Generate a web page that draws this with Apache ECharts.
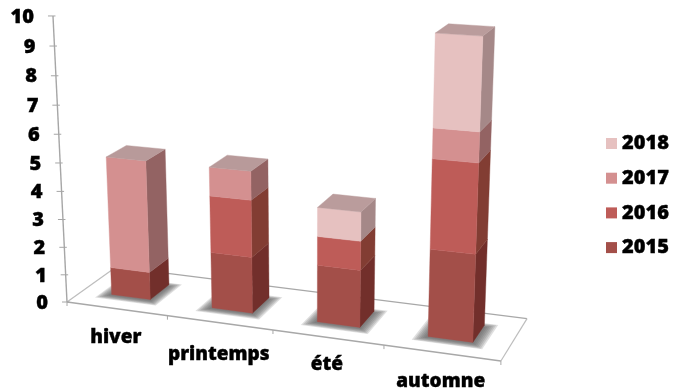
<!DOCTYPE html>
<html>
<head>
<meta charset="utf-8">
<style>html,body{margin:0;padding:0;background:#fff}#chart{width:674px;height:391px}</style>
<script src="https://cdn.jsdelivr.net/npm/echarts@6/dist/echarts.min.js"></script>
</head>
<body>
<div id="chart"></div>
<script>
const categories = ['hiver', 'printemps', 'été', 'automne'];
const yTicks = [0, 1, 2, 3, 4, 5, 6, 7, 8, 9, 10];
const values2015 = [1, 2, 2, 3];
const values2016 = [0, 2, 1, 3];
const values2017 = [4, 1, 0, 1];
const values2018 = [0, 0, 1, 3];

const FONT_FAMILY = '"Open Sans", sans-serif';
const NUMBER_FONT = '800 20px ' + FONT_FAMILY;
const CATEGORY_FONT = '800 19px ' + FONT_FAMILY;
const LABEL_DROP = [29, 32, 27, 29];
const yearStyles = [
  { name: '2015', values: values2015, front: '#A34F49', side: '#722F2B', top: '#8F5A55' },
  { name: '2016', values: values2016, front: '#BE5C58', side: '#823D33', top: '#A06A66' },
  { name: '2017', values: values2017, front: '#D49090', side: '#936363', top: '#B89A9A' },
  { name: '2018', values: values2018, front: '#E6C1C0', side: '#A58888', top: '#BA9C9C' }
];

// Perspective camera: X across categories (0..4), Y value (0..10), Z depth (0 front, 1 back)
const CAM = {
  ax: 96.4, ay: -1.69, az: 56.2, a0: 67,
  bx: 6.05, by: -28.69, bz: -18.6, b0: 302,
  dx: -0.0241, dy: -0.00544, dz: 0.0618
};
function project(X, Y, Z) {
  const w = 1 + CAM.dx * X + CAM.dy * Y + CAM.dz * Z;
  return [
    (CAM.a0 + CAM.ax * X + CAM.ay * Y + CAM.az * Z) / w,
    (CAM.b0 + CAM.bx * X + CAM.by * Y + CAM.bz * Z) / w
  ];
}

// Footprint of a bar inside its category band and in depth
const BAR = { halfWidth: 0.195, zFront: 0.31, zBack: 0.72, shift: -0.008 };
// Stacked translucent footprints that fade out into a soft floor shadow
const SHADOW_LAYERS = [0, 0.015, 0.03, 0.045, 0.06, 0.075, 0.09];

// Read a (category, value) pair through the chart's hidden axes into camera space
function toWorld(api, params, cat, value) {
  const p = api.coord([cat, value]);
  const s = params.coordSys;
  return {
    X: (p[0] - s.x) / s.width * categories.length + BAR.shift,
    Y: (s.y + s.height - p[1]) / s.height * 10
  };
}

function poly(points, fill) {
  return {
    type: 'polygon',
    shape: { points },
    style: { fill, stroke: fill, lineWidth: 0.4 }
  };
}

function line(a, b, color, width) {
  return {
    type: 'line',
    shape: { x1: a[0], y1: a[1], x2: b[0], y2: b[1] },
    style: { stroke: color, lineWidth: width }
  };
}

function label(text, x, y, align, font) {
  return { type: 'text', style: { text, x, y, align, verticalAlign: 'middle', fill: '#000', stroke: '#000', lineWidth: 0.4, font } };
}

function renderSegment(yearIdx) {
  return function (params, api) {
    const cat = api.value(0);
    const v = api.value(1);
    if (!v) return { type: 'group', children: [] };
    const base = yearStyles.slice(0, yearIdx).reduce((t, y) => t + y.values[cat], 0);
    const total = yearStyles.reduce((t, y) => t + y.values[cat], 0);
    const low = toWorld(api, params, cat, base);
    const high = toWorld(api, params, cat, base + v);
    const x0 = low.X - BAR.halfWidth, x1 = low.X + BAR.halfWidth;
    const zf = BAR.zFront, zb = BAR.zBack;
    const st = yearStyles[yearIdx];
    const children = [
      poly([project(x1, low.Y, zf), project(x1, low.Y, zb), project(x1, high.Y, zb), project(x1, high.Y, zf)], st.side),
      poly([project(x0, low.Y, zf), project(x1, low.Y, zf), project(x1, high.Y, zf), project(x0, high.Y, zf)], st.front)
    ];
    if (base + v === total) {
      children.push(poly([project(x0, high.Y, zf), project(x1, high.Y, zf), project(x1, high.Y, zb), project(x0, high.Y, zb)], st.top));
    }
    return { type: 'group', children };
  };
}

function renderShadow(params, api) {
  const w = toWorld(api, params, api.value(0), 0);
  const children = SHADOW_LAYERS.map(grow => {
    const x0 = w.X - BAR.halfWidth - 0.02 - grow, x1 = w.X + BAR.halfWidth + 0.02 + grow;
    const zf = BAR.zFront - 0.03 - grow, zb = BAR.zBack - 0.04 + grow;
    return {
      type: 'polygon',
      shape: { points: [project(x0, 0, zf), project(x1, 0, zf), project(x1, 0, zb), project(x0, 0, zb)] },
      style: { fill: 'rgba(95,95,95,0.2)' }
    };
  });
  return { type: 'group', children };
}

function renderFrame() {
  const n = categories.length;
  const fl = project(0, 0, 0), fr = project(n, 0, 0), br = project(n, 0, 1), bl = project(0, 0, 1);
  const children = [
    line(fl, bl, '#BDBDBD', 1.2), line(bl, br, '#A8A8A8', 1.2),
    line(br, fr, '#BDBDBD', 1.2), line(fl, fr, '#A8A8A8', 1.4),
    line(fl, project(0, 10, 0), '#A6A6A6', 1.4)
  ];
  for (let i = 0; i <= n; i++) {
    const t = project(i, 0, 0);
    children.push(line(t, [t[0], t[1] + 4], '#A8A8A8', 1));
  }
  return { type: 'group', children };
}

function renderYTick(params, api) {
  const w = toWorld(api, params, 0, api.value(0));
  const p = project(0, w.Y, 0);
  return {
    type: 'group',
    children: [
      line([p[0] - 5, p[1]], [p[0] + 2.5, p[1]], '#A6A6A6', 1),
      label(String(api.value(0)), p[0] - 19, p[1] + 1, 'right', NUMBER_FONT)
    ]
  };
}

function renderCategoryLabel(params, api) {
  const cat = api.value(0);
  const w = toWorld(api, params, cat, 0);
  const p = project(w.X, 0, 0);
  return label(categories[cat], p[0], p[1] + LABEL_DROP[cat], 'center', CATEGORY_FONT);
}

const catIndex = categories.map((c, i) => i);
const series = [
  { type: 'custom', name: 'floor', renderItem: renderFrame, data: [0], silent: true, z: 1 },
  { type: 'custom', name: 'shadow', renderItem: renderShadow, data: catIndex, silent: true, z: 2 },
  { type: 'custom', name: 'yticks', renderItem: renderYTick, data: yTicks, encode: { y: 0 }, silent: true, z: 3 },
  { type: 'custom', name: 'labels', renderItem: renderCategoryLabel, data: catIndex, silent: true, z: 3 }
];
yearStyles.forEach((st, idx) => {
  series.push({
    type: 'custom',
    name: st.name,
    renderItem: renderSegment(idx),
    itemStyle: { color: st.front },
    data: st.values.map((v, i) => [i, v]),
    encode: { x: 0, y: 1 },
    z: 4 + idx
  });
});

const chart = echarts.init(document.getElementById('chart'), null, { renderer: 'canvas' });
chart.setOption({
  animation: false,
  backgroundColor: '#fff',
  grid: { left: 0, top: 0, width: 600, height: 300 },
  xAxis: { type: 'category', data: categories, show: false },
  yAxis: { type: 'value', min: 0, max: 10, interval: 1, show: false },
  legend: {
    orient: 'vertical',
    left: 606,
    top: 132,
    padding: 0,
    data: ['2018', '2017', '2016', '2015'],
    icon: 'rect',
    itemWidth: 11,
    itemHeight: 11,
    itemGap: 11.7,
    selectedMode: false,
    textStyle: { color: '#000', fontFamily: FONT_FAMILY, fontWeight: 800, fontSize: 20, lineHeight: 23, padding: 0, textBorderColor: '#000', textBorderWidth: 0.4 }
  },
  series
});
</script>
</body>
</html>
